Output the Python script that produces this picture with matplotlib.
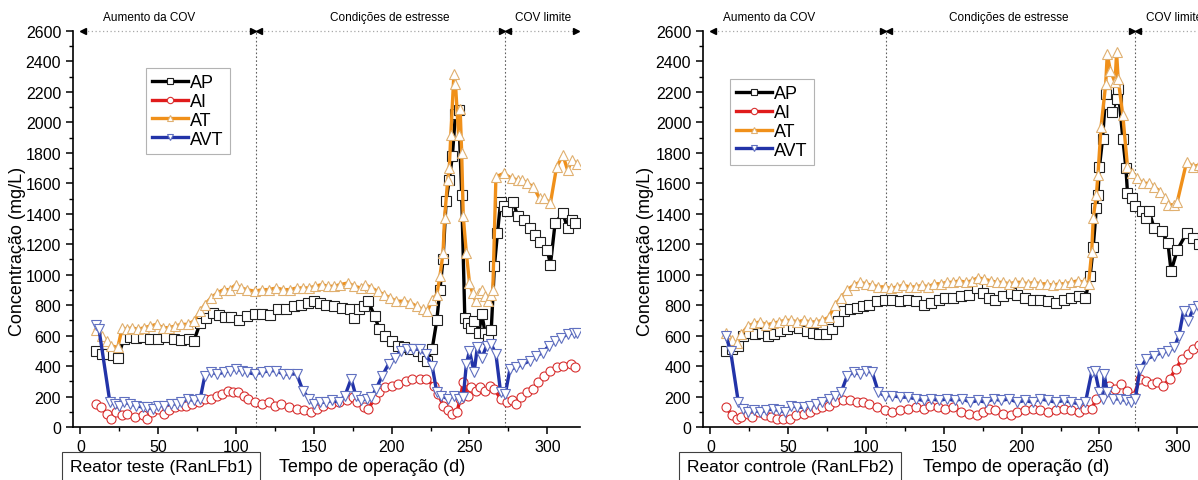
import matplotlib
matplotlib.use("Agg")
import matplotlib.pyplot as plt

plt.rcParams["font.family"] = ["Liberation Sans", "DejaVu Sans"]

# ---- Reator teste (RanLFb1) ----
t_ap1 = [10, 14, 18, 21, 24, 28, 32, 36, 40, 45, 50, 55, 60, 65, 70, 73, 77, 81, 85, 89, 93, 97, 102,
         107, 112, 117, 122, 127, 132, 137, 142, 146, 150, 154, 158, 163, 168, 173, 176, 179, 182, 185,
         189, 192, 196, 200, 204, 208, 212, 217, 220, 223, 226, 229, 231, 233, 235, 237, 239, 241, 243,
         245, 247, 249, 251, 253, 256, 258, 260, 262, 264, 266, 268, 270, 272, 274, 278, 281, 285, 289,
         292, 295, 300, 302, 305, 310, 313, 316, 318]
ap1 = [500, 480, 480, 470, 455, 580, 590, 585, 590, 580, 575, 590, 580, 570, 580, 565, 685, 713, 750,
       733, 724, 724, 700, 728, 740, 745, 733, 772, 778, 793, 804, 815, 826, 815, 804, 793, 783, 772,
       717, 772, 793, 826, 728, 646, 598, 565, 533, 522, 511, 500, 467, 435, 510, 700, 900, 1100, 1485,
       1620, 1780, 2056, 2080, 1524, 717, 685, 652, 695, 620, 739, 620, 576, 640, 1054, 1274, 1480,
       1450, 1415, 1480, 1383, 1360, 1306, 1260, 1217, 1163, 1065, 1339, 1404, 1306, 1360, 1340]

t_ai1 = [10, 13, 17, 20, 23, 27, 30, 35, 40, 43, 46, 50, 54, 57, 61, 65, 68, 72, 76, 80, 84, 88, 91,
         95, 98, 101, 105, 108, 112, 117, 121, 125, 129, 134, 139, 144, 148, 152, 156, 161, 166, 171,
         175, 178, 182, 185, 189, 192, 196, 200, 204, 209, 213, 218, 222, 227, 230, 233, 236, 239, 242,
         244, 246, 249, 251, 254, 257, 260, 263, 266, 270, 274, 277, 280, 283, 287, 291, 294, 298, 302,
         306, 310, 315, 318]
ai1 = [150, 130, 87, 54, 98, 76, 87, 65, 76, 54, 98, 120, 87, 109, 130, 141, 141, 152, 163, 185, 185,
       206, 217, 239, 228, 228, 206, 185, 163, 152, 163, 141, 152, 130, 120, 109, 98, 120, 141, 152,
       163, 174, 196, 163, 130, 120, 185, 228, 261, 272, 283, 304, 315, 315, 315, 272, 217, 141, 109,
       87, 98, 185, 293, 206, 261, 239, 261, 239, 272, 250, 185, 163, 174, 152, 196, 228, 250, 293,
       337, 370, 391, 402, 413, 391]

t_at1 = [10, 14, 17, 20, 24, 27, 30, 33, 37, 41, 45, 49, 53, 57, 61, 65, 69, 73, 77, 80, 84, 88, 92,
         96, 100, 103, 107, 112, 117, 121, 126, 130, 135, 139, 143, 147, 151, 155, 159, 163, 167, 172,
         176, 180, 183, 187, 191, 195, 199, 203, 208, 212, 216, 220, 223, 226, 229, 231, 233, 234, 236,
         237, 238, 240, 241, 243, 244, 245, 246, 248, 250, 252, 254, 256, 258, 260, 262, 264, 265, 267,
         272, 277, 281, 284, 287, 291, 295, 298, 302, 306, 310, 313, 316, 319]
at1 = [640, 598, 565, 533, 522, 652, 641, 652, 641, 652, 663, 674, 652, 652, 663, 674, 674, 696, 761,
       804, 848, 880, 902, 902, 935, 913, 902, 891, 902, 902, 913, 902, 902, 913, 913, 913, 924, 935,
       924, 924, 935, 946, 924, 913, 935, 913, 891, 869, 848, 826, 826, 815, 793, 772, 761, 837, 869,
       989, 1141, 1372, 1622, 1698, 1915, 2317, 2252, 1915, 2089, 1796, 1383, 1141, 946, 880, 826,
       880, 902, 859, 826, 869, 900, 1643, 1665, 1633, 1622, 1622, 1600, 1578, 1502, 1502, 1470, 1709,
       1785, 1687, 1752, 1730]

t_avt1 = [10, 12, 19, 22, 25, 28, 32, 36, 40, 43, 47, 50, 54, 58, 62, 65, 69, 73, 77, 80, 84, 88, 92,
          96, 100, 104, 107, 112, 117, 121, 126, 130, 134, 139, 143, 147, 150, 154, 158, 162, 166, 170,
          174, 177, 180, 184, 187, 190, 194, 198, 202, 206, 210, 214, 218, 222, 226, 229, 232, 236, 240,
          243, 246, 248, 250, 253, 255, 258, 261, 264, 267, 270, 273, 276, 280, 284, 289, 293, 297, 301,
          305, 309, 313, 317, 319]
avt1 = [670, 641, 163, 152, 141, 163, 152, 141, 130, 130, 120, 141, 141, 152, 152, 163, 185, 174, 185,
        337, 359, 348, 359, 370, 380, 370, 359, 348, 359, 370, 370, 348, 348, 348, 239, 185, 152, 163,
        163, 174, 163, 206, 315, 206, 174, 185, 196, 250, 337, 413, 456, 500, 511, 511, 511, 478, 402,
        228, 206, 185, 206, 185, 196, 413, 500, 359, 522, 456, 533, 543, 478, 228, 217, 380, 391, 413,
        435, 467, 489, 533, 565, 587, 609, 620, 620]

# ---- Reator controle (RanLFb2) ----
t_ap2 = [10, 14, 18, 21, 25, 29, 33, 37, 41, 45, 49, 53, 57, 62, 66, 70, 74, 78, 82, 86, 90, 94, 98,
         102, 107, 112, 117, 122, 127, 132, 137, 142, 147, 151, 156, 161, 166, 171, 175, 179, 183, 188,
         193, 197, 202, 207, 212, 217, 222, 227, 232, 237, 241, 244, 246, 248, 249, 250, 252, 254, 256,
         258, 261, 262, 265, 267, 268, 271, 273, 277, 280, 282, 285, 290, 294, 296, 300, 306, 310, 314]
ap2 = [500, 511, 533, 598, 620, 609, 620, 598, 609, 630, 641, 663, 652, 630, 620, 609, 609, 641, 696,
       761, 772, 783, 793, 804, 826, 837, 837, 826, 837, 826, 804, 815, 837, 848, 848, 859, 869, 913,
       880, 848, 837, 859, 880, 869, 848, 837, 837, 826, 815, 837, 848, 859, 848, 989, 1185, 1437,
       1524, 1709, 1893, 2187, 2122, 2067, 2154, 2220, 1893, 1698, 1535, 1502, 1448, 1415, 1372, 1415,
       1307, 1285, 1207, 1022, 1163, 1274, 1241, 1200]

t_ai2 = [10, 14, 17, 20, 24, 27, 31, 35, 39, 43, 47, 51, 55, 60, 64, 68, 72, 76, 80, 85, 90, 94, 98,
         102, 107, 112, 117, 122, 127, 132, 137, 141, 146, 151, 156, 161, 166, 171, 175, 179, 183, 188,
         193, 197, 202, 207, 212, 217, 222, 227, 232, 237, 241, 245, 248, 252, 256, 260, 264, 268, 272,
         276, 280, 284, 287, 291, 295, 299, 303, 307, 310, 314]
ai2 = [130, 76, 54, 65, 87, 65, 98, 76, 65, 54, 54, 54, 76, 87, 98, 120, 130, 141, 163, 174, 174, 163,
       163, 152, 130, 109, 98, 109, 120, 130, 120, 141, 130, 120, 130, 98, 87, 76, 98, 120, 109, 87,
       76, 98, 109, 120, 109, 98, 109, 120, 109, 98, 120, 120, 185, 217, 272, 250, 283, 239, 206, 315,
       304, 283, 293, 272, 315, 380, 446, 478, 511, 540]

t_at2 = [10, 14, 17, 20, 24, 28, 32, 36, 40, 44, 48, 52, 56, 60, 64, 68, 72, 76, 80, 84, 88, 92, 96,
         100, 104, 108, 112, 116, 120, 124, 128, 132, 136, 140, 144, 148, 152, 156, 160, 164, 168, 172,
         176, 180, 184, 188, 192, 196, 200, 204, 208, 212, 216, 220, 224, 228, 232, 236, 240, 243, 245,
         246, 248, 249, 251, 254, 255, 257, 260, 261, 262, 265, 268, 271, 274, 278, 282, 285, 289, 292,
         294, 298, 300, 306, 310, 314]
at2 = [620, 570, 550, 610, 660, 680, 690, 670, 680, 690, 700, 700, 690, 700, 690, 690, 700, 720, 800,
       850, 900, 930, 950, 940, 930, 920, 920, 910, 920, 930, 920, 920, 930, 920, 940, 940, 950, 950,
       960, 950, 960, 980, 970, 960, 950, 950, 940, 950, 950, 940, 950, 940, 940, 930, 940, 940, 950,
       960, 950, 940, 1150, 1372, 1524, 1654, 1970, 2252, 2448, 2339, 2263, 2459, 2285, 2046, 1709,
       1665, 1633, 1600, 1600, 1578, 1546, 1502, 1459, 1459, 1480, 1741, 1709, 1720]

t_avt2 = [10, 13, 18, 21, 24, 28, 32, 36, 40, 44, 48, 52, 56, 60, 64, 68, 72, 76, 80, 84, 88, 92, 96,
          100, 104, 108, 112, 117, 122, 127, 132, 137, 142, 147, 152, 157, 162, 167, 172, 177, 182, 187,
          192, 197, 202, 207, 212, 217, 222, 227, 232, 237, 241, 245, 247, 250, 252, 253, 255, 259, 263,
          267, 270, 273, 276, 280, 285, 290, 294, 298, 301, 304, 307, 310, 313]
avt2 = [598, 500, 163, 120, 98, 109, 98, 109, 120, 109, 98, 141, 130, 130, 141, 152, 163, 185, 206,
        228, 337, 359, 348, 370, 359, 228, 206, 206, 196, 196, 185, 174, 185, 174, 185, 174, 185, 163,
        174, 163, 185, 174, 185, 163, 174, 163, 185, 174, 163, 174, 163, 152, 163, 359, 370, 228, 185,
        348, 228, 185, 185, 174, 163, 185, 380, 446, 467, 489, 500, 522, 598, 761, 696, 772, 793]

series_names = ["AP", "AI", "AT", "AVT"]
line_colors = ["#000000", "#e01b1b", "#f0901a", "#2233a8"]
edge_colors = ["#202020", "#d83030", "#e0b070", "#6070c0"]
markers = ["s", "o", "^", "v"]

phase_labels = ["Aumento da COV", "Condições de estresse", "COV limite"]
phase_bounds = [0, 113, 273, 320]
label_pos1 = [44, 199, 297]
label_pos2 = [38, 192, 298]


def draw_panel(ax, data, legend_anchor, label_pos):
    for (t, v), name, lc, ec, mk in zip(data, series_names, line_colors, edge_colors, markers):
        ax.plot(t, v, color=lc, lw=2.4, marker=mk, ms=6.5, mfc="white", mec=ec, mew=0.8,
                label=name, zorder=3)

    ax.set_xlim(-4.7, 321)
    ax.set_ylim(0, 2600)
    ax.set_xticks([0, 50, 100, 150, 200, 250, 300])
    ax.set_xticks(range(25, 325, 50), minor=True)
    ax.set_yticks(range(0, 2601, 200))
    ax.set_yticks(range(100, 2600, 200), minor=True)
    ax.tick_params(axis="both", which="major", labelsize=11.5, length=5, width=1.1, direction="out")
    ax.tick_params(axis="both", which="minor", length=3, width=1.0, direction="out")
    for s in ["top", "right"]:
        ax.spines[s].set_visible(False)
    for s in ["left", "bottom"]:
        ax.spines[s].set_linewidth(1.2)
    ax.spines["left"].set_bounds(0, 2600)

    # phase separators
    for xb in phase_bounds[1:3]:
        ax.axvline(xb, ymin=0, ymax=1, color="#606060", lw=0.8, ls=(0, (1.5, 2)), zorder=1)
    ax.plot([phase_bounds[0], phase_bounds[-1]], [2600, 2600], color="#a8a8a8", lw=0.9,
            ls=(0, (1, 2)), clip_on=False, zorder=1)
    ax.plot([phase_bounds[0] + 1.5], [2600], marker="<", color="black", ms=4, clip_on=False)
    for xb in phase_bounds[1:3]:
        ax.plot([xb - 2], [2600], marker=">", color="black", ms=4, clip_on=False)
        ax.plot([xb + 2], [2600], marker="<", color="black", ms=4, clip_on=False)
    ax.plot([phase_bounds[-1] - 1.5], [2600], marker=">", color="black", ms=4, clip_on=False)
    for xm, lab in zip(label_pos, phase_labels):
        ax.text(xm, 2650, lab, ha="center", va="bottom", fontsize=8.5, clip_on=False)

    leg = ax.legend(loc="upper left", bbox_to_anchor=legend_anchor, fontsize=13, frameon=True,
                    fancybox=False, edgecolor="#a0a0a0", handlelength=2.0, handletextpad=0.1,
                    borderpad=0.35, labelspacing=0.1, borderaxespad=0, markerscale=0.7)
    leg.get_frame().set_linewidth(0.8)


fig = plt.figure(figsize=(11.98, 4.81), dpi=100)
ax1 = fig.add_axes([73 / 1198, 53 / 481, 507 / 1198, 396 / 481])
ax2 = fig.add_axes([703 / 1198, 53 / 481, 507 / 1198, 396 / 481])

draw_panel(ax1, [(t_ap1, ap1), (t_ai1, ai1), (t_at1, at1), (t_avt1, avt1)], (0.144, 0.907), label_pos1)
draw_panel(ax2, [(t_ap2, ap2), (t_ai2, ai2), (t_at2, at2), (t_avt2, avt2)], (0.053, 0.879), label_pos2)

for ylx in [18 / 1198, 645 / 1198]:
    fig.text(ylx, 230 / 481, "Concentração (mg/L)", rotation=90, ha="center", va="center", fontsize=13)

fig.text(372 / 1198, 1 - 468 / 481, "Tempo de operação (d)", ha="center", va="center", fontsize=13)
fig.text(1016 / 1198, 1 - 468 / 481, "Tempo de operação (d)", ha="center", va="center", fontsize=13)

fig.text(161 / 1198, 1 - 468 / 481, "Reator teste (RanLFb1)", ha="center", va="center", fontsize=12.5,
         bbox=dict(boxstyle="square,pad=0.45", fc="white", ec="#404040", lw=0.8))
fig.text(790 / 1198, 1 - 468 / 481, "Reator controle (RanLFb2)", ha="center", va="center",
         fontsize=12.5, bbox=dict(boxstyle="square,pad=0.45", fc="white", ec="#404040", lw=0.8))

fig.savefig("out.png", dpi=100)
